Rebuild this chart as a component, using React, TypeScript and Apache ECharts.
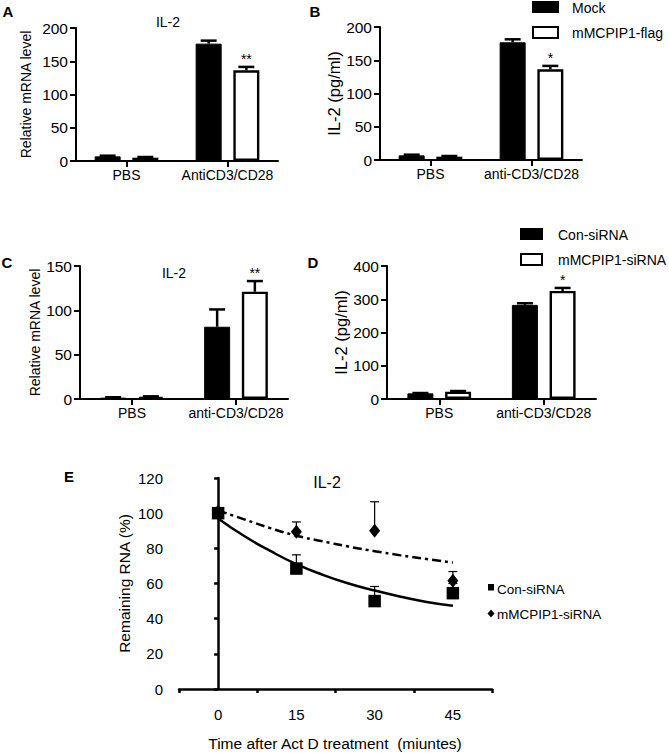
import React, { useEffect, useRef } from 'react';
import * as echarts from 'echarts';

// ---------- data ----------
const catsA = ['PBS', 'AntiCD3/CD28'];
const catsB = ['PBS', 'anti-CD3/CD28'];
const catsC = ['PBS', 'anti-CD3/CD28'];
const catsD = ['PBS', 'anti-CD3/CD28'];

const aMock = [7, 176.5];
const aMockErr = [8, 181];
const aFlag = [5, 136.5];
const aFlagErr = [6, 141.5];
const aStars = ['', '**'];

const bMock = [7, 177];
const bMockErr = [8, 181.5];
const bFlag = [5, 136.5];
const bFlagErr = [6, 141.5];
const bStars = ['', '*'];

const cCon = [1.5, 81.5];
const cConErr = [2, 101];
const cMm = [2.5, 121];
const cMmErr = [3, 133];
const cStars = ['', '**'];

const dCon = [17, 283];
const dConErr = [18, 288];
const dMm = [22, 325];
const dMmErr = [24, 334];
const dStars = ['', '*'];

const eTimes = [0, 15, 30, 45];
const eTimeLabels = ['0', '15', '30', '45'];
const eCon = [100, 68.5, 50, 54.5];
const eConErr = [100, 76.3, 58.3, 60];
const eMm = [101, 89.5, 90, 61.5];
const eMmErr = [101, 95, 106.5, 66.8];
const eConFitX = [0, 5, 10, 15, 20, 25, 30, 35, 40, 45];
const eConFitY = [97, 87, 78.5, 71, 65, 60, 56, 52.5, 49.5, 47.3];
const eMmFitX = [0, 5, 10, 15, 20, 25, 30, 35, 40, 45];
const eMmFitY = [101.5, 96.5, 91.5, 87.2, 84, 81, 78.4, 76, 73.9, 71.9];

// ---------- styling constants ----------
const FONT = 'Liberation Sans';
const BW = 26;
const GAP = 0.45;

function catX(gi: number, cats: string[]) {
  return {
    type: 'category', gridIndex: gi, data: cats, boundaryGap: true,
    axisLine: { show: true, lineStyle: { color: '#000', width: 2 } },
    axisTick: { show: true, alignWithLabel: true, length: 6, lineStyle: { color: '#000', width: 2 } },
    axisLabel: { color: '#000', fontSize: 14, fontFamily: FONT, margin: 7, interval: 0 },
    splitLine: { show: false },
  };
}

function valY(gi: number, max: number, interval: number, name: string, nameGap: number, nameSize: number) {
  return {
    type: 'value', gridIndex: gi, min: 0, max, interval, name, nameLocation: 'middle', nameGap, nameRotate: 90,
    nameTextStyle: { color: '#000', fontSize: nameSize, fontFamily: FONT },
    axisLine: { show: true, lineStyle: { color: '#000', width: 2 } },
    axisTick: { show: true, length: 6, lineStyle: { color: '#000', width: 2 } },
    axisLabel: { color: '#000', fontSize: 15.5, fontFamily: FONT, margin: 8 },
    splitLine: { show: false },
  };
}

function bars(gi: number, n1: string, v1: number[], n2: string, v2: number[]) {
  return [
    {
      type: 'bar', name: n1, xAxisIndex: gi, yAxisIndex: gi, data: v1, barWidth: BW, barGap: GAP * 100 + '%',
      itemStyle: { color: '#000', borderColor: '#000', borderWidth: 1 }, z: 2,
    },
    {
      type: 'bar', name: n2, xAxisIndex: gi, yAxisIndex: gi, data: v2, barWidth: BW, barGap: GAP * 100 + '%',
      itemStyle: { color: '#fff', borderColor: '#000', borderWidth: 2.4 }, z: 2,
    },
  ];
}

function barErr(gi: number, vals: number[], errs: number[], sign: number, stars: string[] | null) {
  return {
    type: 'custom', xAxisIndex: gi, yAxisIndex: gi, z: 3, silent: true,
    data: vals.map((v, i) => [i, v, errs[i]]),
    renderItem: (params: any, api: any) => {
      const i = api.value(0);
      const v = api.value(1);
      const e = api.value(2);
      const base = api.coord([i, v]);
      const top = api.coord([i, e]);
      const x = base[0] + sign * (BW * (1 + GAP)) / 2;
      const ls = { stroke: '#000', lineWidth: 2.5 };
      const children: any[] = [
        { type: 'line', shape: { x1: x, y1: base[1], x2: x, y2: top[1] }, style: ls },
        { type: 'line', shape: { x1: x - 8, y1: top[1], x2: x + 8, y2: top[1] }, style: ls },
      ];
      const star = stars ? stars[params.dataIndex] : '';
      if (star) {
        children.push({
          type: 'text', x, y: top[1] - 1,
          style: { text: star, fill: '#000', fontSize: 14, fontFamily: FONT, align: 'center', textAlign: 'center', verticalAlign: 'bottom', textVerticalAlign: 'bottom' },
        });
      }
      return { type: 'group', children };
    },
  };
}

function ptErr(vals: number[], errs: number[]) {
  return {
    type: 'custom', xAxisIndex: 4, yAxisIndex: 4, z: 1, silent: true,
    data: eTimes.map((t, i) => [t, vals[i], errs[i]]),
    renderItem: (params: any, api: any) => {
      const p = api.coord([api.value(0), api.value(1)]);
      const q = api.coord([api.value(0), api.value(2)]);
      const ls = { stroke: '#000', lineWidth: 1.2 };
      return {
        type: 'group', children: [
          { type: 'line', shape: { x1: p[0], y1: p[1], x2: q[0], y2: q[1] }, style: ls },
          { type: 'line', shape: { x1: q[0] - 4.5, y1: q[1], x2: q[0] + 4.5, y2: q[1] }, style: ls },
        ],
      };
    },
  };
}

function txt(text: string, x: number, y: number, size: number, bold = false, align = 'center') {
  return {
    type: 'text', x, y, silent: true,
    style: {
      text, fill: '#000', fontSize: size, fontFamily: FONT, fontWeight: bold ? 'bold' : 'normal',
      align, textAlign: align, verticalAlign: 'middle', textVerticalAlign: 'middle',
    },
  };
}

function box(x: number, y: number, w: number, h: number, filled: boolean) {
  return {
    type: 'rect', silent: true, shape: { x, y, width: w, height: h },
    style: filled ? { fill: '#000' } : { fill: '#fff', stroke: '#000', lineWidth: 2 },
  };
}

export default function App() {
  const ref = useRef<HTMLDivElement>(null);
  useEffect(() => {
    if (!ref.current) return;
    const chart = echarts.init(ref.current, null, { renderer: 'svg' });
    const eLabelAxis = {
      type: 'category', gridIndex: 4, data: eTimeLabels, boundaryGap: true, position: 'bottom',
      axisLine: { show: true, lineStyle: { color: '#000', width: 2.5 } },
      axisTick: { show: true, interval: 0, length: 4, lineStyle: { color: '#000', width: 2.5 } },
      axisLabel: { color: '#000', fontSize: 15, fontFamily: FONT, margin: 18, interval: 0 },
      splitLine: { show: false },
    };
    const option: any = {
      animation: false,
      backgroundColor: '#fff',
      grid: [
        { left: 76, top: 28, width: 202, height: 133 },
        { left: 380, top: 27, width: 202, height: 133 },
        { left: 80, top: 266, width: 208, height: 133 },
        { left: 387, top: 266, width: 209, height: 133 },
        { left: 179, top: 478, width: 313, height: 211 },
      ],
      xAxis: [
        catX(0, catsA),
        catX(1, catsB),
        catX(2, catsC),
        catX(3, catsD),
        { type: 'value', gridIndex: 4, min: -7.5, max: 52.5, show: false },
        eLabelAxis,
      ],
      yAxis: [
        valY(0, 200, 50, 'Relative mRNA level', 43, 14),
        valY(1, 200, 50, 'IL-2 (pg/ml)', 37, 16.5),
        valY(2, 150, 50, 'Relative mRNA level', 33, 14),
        valY(3, 400, 100, 'IL-2 (pg/ml)', 38, 16.5),
        {
          type: 'value', gridIndex: 4, min: 0, max: 120, interval: 20,
          name: 'Remaining RNA (%)', nameLocation: 'middle', nameGap: 47, nameRotate: 90,
          nameTextStyle: { color: '#000', fontSize: 15.5, fontFamily: FONT },
          axisLine: { show: true, lineStyle: { color: '#000', width: 2.5 } },
          axisTick: { show: true, length: 4, lineStyle: { color: '#000', width: 2.5 } },
          axisLabel: { color: '#000', fontSize: 15, fontFamily: FONT, margin: 16 },
          splitLine: { show: false },
        },
      ],
      series: [
        ...bars(0, 'Mock', aMock, 'mMCPIP1-flag', aFlag),
        barErr(0, aMock, aMockErr, -1, null),
        barErr(0, aFlag, aFlagErr, 1, aStars),
        ...bars(1, 'Mock', bMock, 'mMCPIP1-flag', bFlag),
        barErr(1, bMock, bMockErr, -1, null),
        barErr(1, bFlag, bFlagErr, 1, bStars),
        ...bars(2, 'Con-siRNA', cCon, 'mMCPIP1-siRNA', cMm),
        barErr(2, cCon, cConErr, -1, null),
        barErr(2, cMm, cMmErr, 1, cStars),
        ...bars(3, 'Con-siRNA', dCon, 'mMCPIP1-siRNA', dMm),
        barErr(3, dCon, dConErr, -1, null),
        barErr(3, dMm, dMmErr, 1, dStars),
        {
          type: 'line', name: 'Con-siRNA fit', xAxisIndex: 4, yAxisIndex: 4, smooth: true, showSymbol: false, z: 2,
          data: eConFitX.map((x, i) => [x, eConFitY[i]]),
          lineStyle: { color: '#000', width: 2.5 },
        },
        {
          type: 'line', name: 'mMCPIP1-siRNA fit', xAxisIndex: 4, yAxisIndex: 4, smooth: true, showSymbol: false, z: 2,
          data: eMmFitX.map((x, i) => [x, eMmFitY[i]]),
          lineStyle: { color: '#000', width: 2.5, type: [9, 4, 3, 4] },
        },
        ptErr(eCon, eConErr),
        ptErr(eMm, eMmErr),
        {
          type: 'scatter', name: 'Con-siRNA', xAxisIndex: 4, yAxisIndex: 4, symbol: 'rect', symbolSize: 12.5, z: 4,
          data: eTimes.map((t, i) => [t, eCon[i]]), itemStyle: { color: '#000', opacity: 1 },
        },
        {
          type: 'scatter', name: 'mMCPIP1-siRNA', xAxisIndex: 4, yAxisIndex: 4, symbol: 'diamond', symbolSize: [11, 14], z: 5,
          data: eTimes.map((t, i) => [t, eMm[i]]), itemStyle: { color: '#000', opacity: 1 },
        },
      ],
      graphic: [
        txt('A', 8, 11, 15, true),
        txt('B', 315, 11, 15, true),
        txt('C', 7, 262, 15, true),
        txt('D', 313, 262, 15, true),
        txt('E', 69, 476, 15, true),
        txt('IL-2', 168, 22, 14),
        txt('IL-2', 174, 273, 14),
        txt('IL-2', 327, 482, 16),
        box(532, 1, 27, 12, true),
        txt('Mock', 572, 8, 14, false, 'left'),
        box(533, 27, 25, 11, false),
        txt('mMCPIP1-flag', 572, 33, 14, false, 'left'),
        box(520, 228, 23, 12, true),
        txt('Con-siRNA', 558, 235, 14, false, 'left'),
        box(521, 254, 21, 11, false),
        txt('mMCPIP1-siRNA', 558, 260, 14, false, 'left'),
        { type: 'rect', silent: true, shape: { x: 488, y: 584, width: 6, height: 6.5 }, style: { fill: '#000' } },
        txt('Con-siRNA', 497, 589, 13.5, false, 'left'),
        { type: 'polygon', silent: true, shape: { points: [[491, 609.5], [494.5, 613.5], [491, 617.5], [487.5, 613.5]] }, style: { fill: '#000' } },
        txt('mMCPIP1-siRNA', 497, 614, 13.5, false, 'left'),
        txt('Time after Act D treatment  (miuntes)', 335, 743, 15.5),
      ],
    };
    chart.setOption(option);
    return () => chart.dispose();
  }, []);
  return <div ref={ref} style={{ position: 'absolute', left: 0, top: 0, width: 669, height: 753 }} />;
}
